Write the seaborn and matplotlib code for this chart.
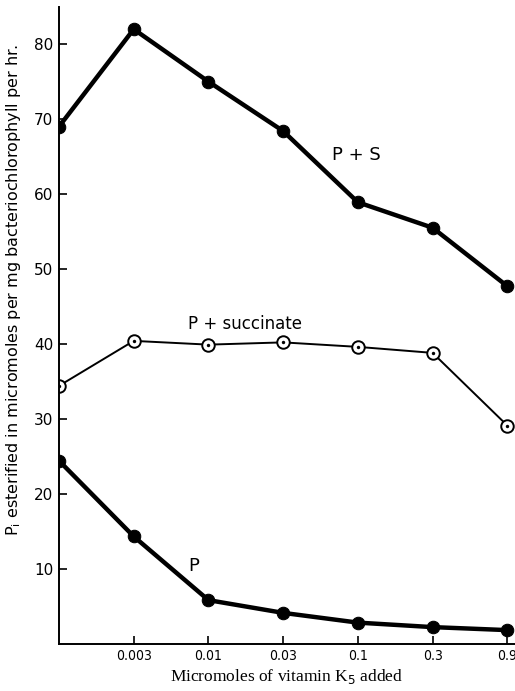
import matplotlib
matplotlib.use("Agg")
import matplotlib.pyplot as plt
import seaborn as sns
import pandas as pd

# Data
categories = ["0", "0.003", "0.01", "0.03", "0.1", "0.3", "0.9"]
p_plus_s = [69, 82, 75, 68.4, 58.9, 55.5, 47.7]
p_plus_succinate = [34.4, 40.4, 39.9, 40.2, 39.6, 38.8, 29.1]
p_only = [24.4, 14.3, 5.8, 4.1, 2.8, 2.2, 1.8]
tick_labels = ["", "0.003", "0.01", "0.03", "0.1", "0.3", "0.9"]

sns.set_style("ticks")
plt.rcParams['font.family'] = ['DejaVu Sans']
plt.rcParams['text.color'] = 'black'
plt.rcParams['axes.labelcolor'] = 'black'
plt.rcParams['xtick.color'] = 'black'
plt.rcParams['ytick.color'] = 'black'

pos = list(range(len(categories)))
df = pd.DataFrame({"pos": pos, "PS": p_plus_s, "PSucc": p_plus_succinate, "P": p_only})

fig = plt.figure(figsize=(5.15, 6.91), dpi=100)
ax = fig.add_axes([0.1146, 0.0686, 0.885, 0.9217])

sns.lineplot(data=df, x="pos", y="PS", ax=ax, color="black", linewidth=3.2,
             marker="o", markersize=9, markerfacecolor="black", markeredgecolor="black")
sns.lineplot(data=df, x="pos", y="P", ax=ax, color="black", linewidth=3.2,
             marker="o", markersize=9, markerfacecolor="black", markeredgecolor="black")
sns.lineplot(data=df, x="pos", y="PSucc", ax=ax, color="black", linewidth=1.4,
             marker="o", markersize=9, markerfacecolor="white", markeredgecolor="black",
             markeredgewidth=1.4)
sns.scatterplot(data=df, x="pos", y="PSucc", ax=ax, color="black", s=6, linewidth=0, zorder=5)

ax.set_xlim(0, 6.1)
ax.set_ylim(0, 85)
ax.set_xticks(pos[1:])
ax.set_xticklabels(tick_labels[1:], fontsize=10, stretch="condensed")
ax.set_yticks([10, 20, 30, 40, 50, 60, 70, 80])
ax.set_yticklabels(["10", "20", "30", "40", "50", "60", "70", "80"], fontsize=11)
ax.tick_params(axis="both", direction="in", length=6, width=1.2, colors="black")
ax.tick_params(axis="y", pad=4)
ax.tick_params(axis="x", pad=4)
sns.despine(ax=ax, top=True, right=True)
for s in ["left", "bottom"]:
    ax.spines[s].set_linewidth(1.4)
    ax.spines[s].set_color("black")

ax.set_xlabel("Micromoles of vitamin K$_5$ added", family=["Liberation Serif", "DejaVu Serif"],
              fontsize=12.5, labelpad=3)
ax.set_ylabel("P$_\\mathregular{i}$ esterified in micromoles per mg bacteriochlorophyll per hr.",
              fontsize=11.5)
ax.yaxis.set_label_coords(-0.08, 0.555)

ax.text(3.65, 65.2, "P + S", fontsize=13, ha="left", va="center", color="black")
ax.text(1.73, 42.6, "P + succinate", fontsize=12, ha="left", va="center", color="black")
ax.text(1.73, 10.3, "P", fontsize=13, ha="left", va="center", color="black")

fig.savefig("out.png", dpi=100)
